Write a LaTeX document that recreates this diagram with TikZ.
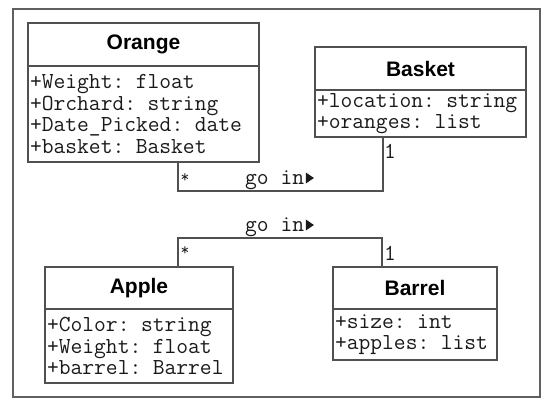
\documentclass[tikz,border=0pt]{standalone}
\usepackage{fontspec}
\setmainfont{Liberation Sans}
\definecolor{linec}{HTML}{505050}
\definecolor{framec}{HTML}{606060}
\definecolor{txtc}{HTML}{1A1A1A}
\begin{document}
\begin{tikzpicture}[x=1pt,y=-1pt,
  frame/.style={draw=framec, line width=1.5pt, anchor=north west, inner sep=0pt, outer sep=0pt},
  hdr/.style={draw=linec, line width=1.3pt, text=black, font=\bfseries\fontsize{21}{24}\selectfont,
    anchor=north west, inner sep=0pt, outer sep=0pt},
  body/.style={draw=linec, line width=1.3pt, text=txtc, font=\ttfamily\fontsize{22.9}{21.5}\selectfont,
    anchor=north west, align=left, inner xsep=2pt, inner ysep=0pt, outer sep=0pt},
  conn/.style={draw=linec, line width=1.3pt},
  lbl/.style={text=txtc, font=\ttfamily\fontsize{22.9}{24}\selectfont, inner sep=0pt},
  star/.style={text=txtc, font=\ttfamily\fontsize{17}{20}\selectfont, inner sep=0pt},
  tri/.style={fill=txtc}
]
\useasboundingbox (0,0) rectangle (553,409);
\node[frame, minimum width=527pt, minimum height=388pt] (frame) at (13,9) {};

% Orange
\node[hdr, minimum width=231pt, minimum height=43pt] (orangeH) at (28,23) {Orange};
\node[body, text width=227pt, minimum height=96pt] (orangeB) at (orangeH.south west)
  {+Weight: float\\+Orchard: string\\+Date\_Picked: date\\+basket: Basket};

% Basket
\node[hdr, minimum width=211pt, minimum height=43pt] (basketH) at (315,47) {Basket};
\node[body, text width=207pt, minimum height=47pt] (basketB) at (basketH.south west)
  {+location: string\\+oranges: list};

% Apple
\node[hdr, minimum width=188pt, minimum height=42pt] (appleH) at (45,267) {Apple};
\node[body, text width=184pt, minimum height=74pt] (appleB) at (appleH.south west)
  {+Color: string\\+Weight: float\\+barrel: Barrel};

% Barrel
\node[hdr, minimum width=164pt, minimum height=42pt] (barrelH) at (333,267) {Barrel};
\node[body, text width=160pt, minimum height=51pt] (barrelB) at (barrelH.south west)
  {+size: int\\+apples: list};

% connectors
\draw[conn] ([xshift=150pt]orangeB.south west) -- ++(0,29) -| ([xshift=68pt]basketB.south west);
\draw[conn] ([xshift=133pt]appleH.north west) -- ++(0,-29) -| ([xshift=49pt]barrelH.north west);

% labels
\node[lbl, anchor=base west] (goin1) at (245,184) {go in};
\node[lbl, anchor=base west] (goin2) at (245,231) {go in};
\fill[tri] (goin1.base east) ++(1.5,-0.5) -- ++(8,-5.5) -- ++(-8,-5.5) -- cycle;
\fill[tri] (goin2.base east) ++(1.5,-0.5) -- ++(8,-5.5) -- ++(-8,-5.5) -- cycle;
\node[star] (m1) at (185,178.5) {*};
\node[lbl] (m2) at (390,151) {1};
\node[star] (m3) at (185,251) {*};
\node[lbl] (m4) at (390,253) {1};
\end{tikzpicture}
\end{document}
